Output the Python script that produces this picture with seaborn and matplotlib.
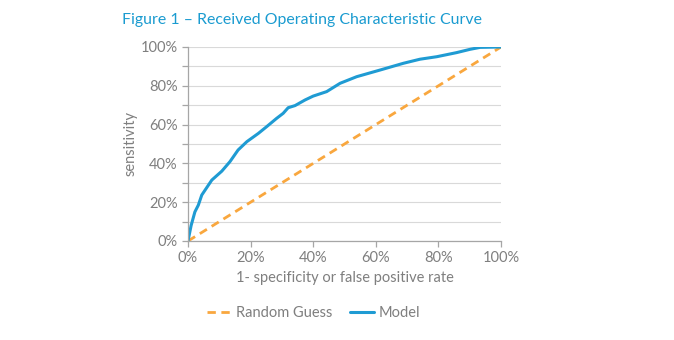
import matplotlib
matplotlib.use("Agg")
import matplotlib.pyplot as plt
import matplotlib.ticker as mticker
import seaborn as sns
import pandas as pd

# Data (fractions)
model_fpr = [0.0, 0.01, 0.022, 0.033, 0.044, 0.076, 0.108, 0.134, 0.16, 0.188, 0.225,
             0.251, 0.283, 0.304, 0.32, 0.342, 0.374, 0.40, 0.443, 0.486, 0.539,
             0.613, 0.688, 0.741, 0.795, 0.858, 0.901, 0.933, 1.0]
model_tpr = [0.0, 0.08, 0.15, 0.185, 0.237, 0.314, 0.36, 0.409, 0.469, 0.512, 0.555,
             0.589, 0.632, 0.658, 0.687, 0.698, 0.727, 0.747, 0.77, 0.813, 0.847,
             0.881, 0.916, 0.937, 0.95, 0.971, 0.988, 0.998, 1.0]
random_fpr = [0.0, 1.0]
random_tpr = [0.0, 1.0]

title = "Figure 1 \u2013 Received Operating Characteristic Curve"
xlabel = "1- specificity or false positive rate"
ylabel = "sensitivity"

sns.set_theme(style="white")
plt.rcParams["font.family"] = ["Lato", "DejaVu Sans"]

grey = "#7f7f7f"
blue = "#1f9bd3"
orange = "#f9a73e"

fig = plt.figure(figsize=(6.74, 3.4), dpi=100)
ax = fig.add_axes([188/674, 1-241/340, (501-188)/674, (241-47)/340])

df_rand = pd.DataFrame({"x": random_fpr, "y": random_tpr})
df_model = pd.DataFrame({"x": model_fpr, "y": model_tpr})
sns.lineplot(data=df_rand, x="x", y="y", ax=ax, color=orange, lw=2,
             linestyle=(0, (3, 2)), label="Random Guess", sort=False)
sns.lineplot(data=df_model, x="x", y="y", ax=ax, color=blue, lw=2.2,
             label="Model", sort=False)

ax.set_xlim(0, 1)
ax.set_ylim(0, 1)
ax.xaxis.set_major_locator(mticker.MultipleLocator(0.2))
ax.yaxis.set_major_locator(mticker.MultipleLocator(0.2))
ax.yaxis.set_minor_locator(mticker.MultipleLocator(0.1))
pct = mticker.FuncFormatter(lambda v, p: f"{v*100:.0f}%")
ax.xaxis.set_major_formatter(pct)
ax.yaxis.set_major_formatter(pct)
ax.grid(True, which="both", axis="y", color="#d9d9d9", lw=0.8)
ax.grid(False, axis="x")
ax.set_axisbelow(True)

for s in ["top", "right"]:
    ax.spines[s].set_visible(False)
for s in ["left", "bottom"]:
    ax.spines[s].set_color("#a6a6a6")
    ax.spines[s].set_linewidth(0.9)

ax.tick_params(axis="both", which="both", colors="#a6a6a6", labelcolor=grey,
               labelsize=10.5, length=4, width=0.9)
ax.tick_params(axis="y", which="both", left=True, direction="out")
ax.tick_params(axis="x", bottom=True, direction="out")

ax.set_xlabel(xlabel, color=grey, fontsize=10.5, labelpad=4)
ax.set_ylabel(ylabel, color=grey, fontsize=10.5, labelpad=2)

fig.text(122/674, 1-20/340, title, color="#1a9bd0", fontsize=11.4,
         ha="left", va="center")

leg = ax.legend(loc="center", bbox_to_anchor=(313.5/674, 1-313/340),
                bbox_transform=fig.transFigure, ncol=2,
                frameon=False, fontsize=10.5, handlelength=1.7, columnspacing=1.2,
                handletextpad=0.3)
for t in leg.get_texts():
    t.set_color(grey)

fig.savefig("out.png", dpi=100)
